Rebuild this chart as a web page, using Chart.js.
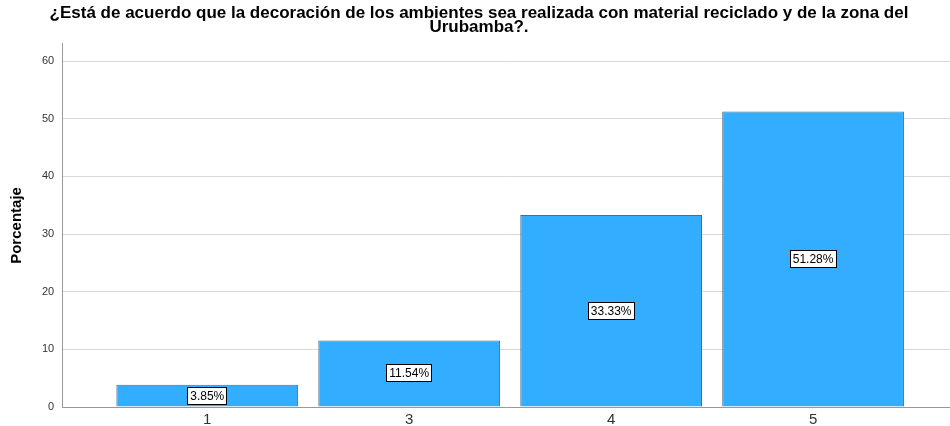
<!DOCTYPE html>
<html>
<head>
<meta charset="utf-8">
<script src="https://cdn.jsdelivr.net/npm/chart.js@4"></script>
<style>
  html, body { margin: 0; padding: 0; background: #fff; }
  #wrap { width: 950px; height: 426px; }
</style>
</head>
<body>
<div id="wrap"><canvas id="myChart"></canvas></div>
<script>
// data
var categories = ["1", "3", "4", "5"];
var percentages = [3.85, 11.54, 33.33, 51.28];
var valueLabels = ["3.85%", "11.54%", "33.33%", "51.28%"];
var yTicks = [0, 10, 20, 30, 40, 50, 60];

// labels in white boxes at the middle of each bar
var boxLabels = {
  id: 'boxLabels',
  afterDatasetsDraw: function (chart) {
    var ctx = chart.ctx;
    var meta = chart.getDatasetMeta(0);
    ctx.save();
    ctx.font = '12px "Liberation Sans", Arial, sans-serif';
    ctx.textAlign = 'center';
    ctx.textBaseline = 'middle';
    meta.data.forEach(function (bar, i) {
      var p = bar.getProps(['x', 'y', 'base'], true);
      var cy = Math.round((p.y + p.base) / 2);
      var txt = valueLabels[i];
      var w = Math.round(ctx.measureText(txt).width) + 6;
      var h = 18;
      var x0 = Math.round(p.x - w / 2);
      ctx.fillStyle = '#ffffff';
      ctx.fillRect(x0, cy - h / 2, w, h);
      ctx.strokeStyle = '#000000';
      ctx.lineWidth = 1;
      ctx.strokeRect(x0 + 0.5, cy - h / 2 + 0.5, w - 1, h - 1);
      ctx.fillStyle = '#000000';
      ctx.fillText(txt, p.x, cy + 1);
    });
    ctx.restore();
  }
};

new Chart("myChart", {
  type: "bar",
  data: {
    datasets: [{
      data: percentages.map(function (v, i) { return {x: i, y: v}; }),
      backgroundColor: "#33adff",
      borderColor: "#4a6f8c",
      borderWidth: 1,
      barPercentage: 0.9,
      categoryPercentage: 1.0
    }]
  },
  options: {
    responsive: true,
    maintainAspectRatio: false,
    animation: false,
    layout: { padding: { left: 8, right: 0, top: 0, bottom: -6 } },
    plugins: {
      legend: { display: false },
      tooltip: { enabled: false },
      title: {
        display: true,
        text: ["¿Está de acuerdo que la decoración de los ambientes sea realizada con material reciclado y de la zona del", "Urubamba?."],
        color: "#000",
        font: { family: '"Liberation Sans", Arial, sans-serif', size: 17, weight: 'bold', lineHeight: 0.85 },
        padding: { top: 6, bottom: 9 }
      }
    },
    scales: {
      x: {
        type: 'linear',
        min: -0.718,
        max: 3.678,
        offset: false,
        afterBuildTicks: function (axis) {
          axis.ticks = categories.map(function (c, i) { return {value: i}; });
        },
        ticks: {
          callback: function (v) { return categories[v]; },
          color: "#333",
          font: { family: '"Liberation Sans", Arial, sans-serif', size: 15, lineHeight: 1 },
          padding: 5
        },
        grid: { display: false, drawTicks: false },
        border: { color: "#999", width: 1 }
      },
      y: {
        min: 0,
        max: 63,
        afterBuildTicks: function (axis) {
          axis.ticks = yTicks.map(function (v) { return {value: v}; });
        },
        ticks: {
          color: "#333",
          font: { family: '"Liberation Sans", Arial, sans-serif', size: 11 },
          padding: 8
        },
        grid: { color: "#d9d9d9", lineWidth: 1, drawTicks: false },
        border: { color: "#999", width: 1 },
        title: {
          display: true,
          text: "Porcentaje",
          color: "#000",
          font: { family: '"Liberation Sans", Arial, sans-serif', size: 15, weight: 'bold' },
          padding: { top: 0, bottom: 8 }
        }
      }
    }
  },
  plugins: [boxLabels]
});
</script>
</body>
</html>
